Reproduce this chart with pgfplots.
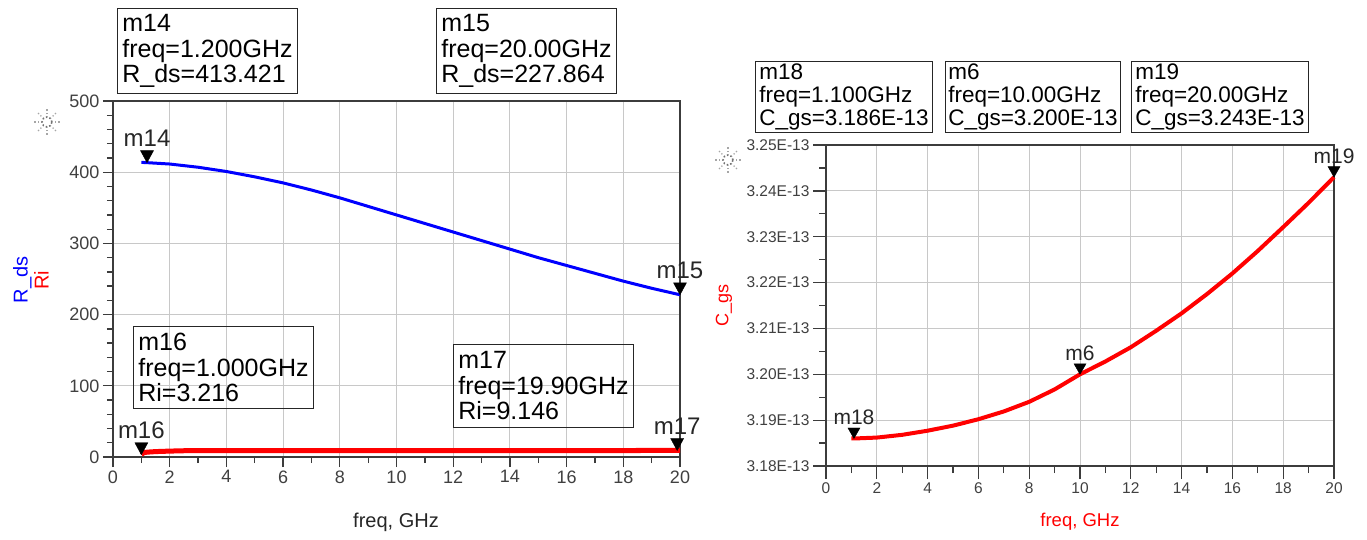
\documentclass[border=0pt]{standalone}
\usepackage{pgfplots}
\pgfplotsset{compat=1.18}
\usepackage{fontspec}
\setmainfont{Liberation Sans}
\newcommand{\fs}[1]{\fontsize{#1}{#1}\selectfont}
\definecolor{gridc}{RGB}{200,200,200}
\definecolor{axc}{RGB}{60,60,60}
\definecolor{tlc}{RGB}{64,64,64}
\pgfdeclareplotmark{dtri}{%
 \pgfpathmoveto{\pgfqpoint{0pt}{0pt}}%
 \pgfpathlineto{\pgfqpoint{-6.5pt}{12pt}}%
 \pgfpathlineto{\pgfqpoint{6.5pt}{12pt}}%
 \pgfpathclose\pgfusepathqfillstroke}
\pgfdeclareplotmark{dtris}{%
 \pgfpathmoveto{\pgfqpoint{0pt}{0pt}}%
 \pgfpathlineto{\pgfqpoint{-6pt}{10.5pt}}%
 \pgfpathlineto{\pgfqpoint{6pt}{10.5pt}}%
 \pgfpathclose\pgfusepathqfillstroke}
\pgfplotsset{
  adsax/.style={
    scale only axis, anchor=south west, clip=false,
    xmin=0, xmax=20, xtick={0,2,...,20}, minor x tick num=1,
    grid=major, major grid style={gridc, line width=1pt},
    tick align=outside, xtick pos=bottom, ytick pos=left,
    axis line style={axc, line width=1.3pt},
    tick style={axc, line width=1.3pt},
    /pgf/number format/assume math mode=true,
    ticklabel style={text=tlc},
  }
}
\begin{document}
\begin{tikzpicture}
\path[use as bounding box] (0pt,0pt) rectangle (1367pt,-539pt);
% star icons
\foreach \cx/\cy in {47/-122, 728/-160} {
  \draw[gray!90!black, dotted, line width=1.6pt] (\cx pt,\cy pt) circle (5pt);
  \foreach \a in {0,45,...,315}
    \draw[gray!70, dotted, line width=1.3pt] ([shift={(\a:8pt)}]\cx pt,\cy pt) -- ([shift={(\a:14pt)}]\cx pt,\cy pt);
}
%================ LEFT ================
\begin{axis}[adsax, at={(113pt,-457pt)}, width=567pt, height=356pt,
  ymin=0, ymax=500, ytick={0,100,...,500}, minor y tick num=4,
  major tick length=10pt, minor tick length=6pt,
  ticklabel style={font=\fs{18}},
]
\addplot[blue, line width=3pt] coordinates {
 (1,413.8) (1.2,413.421) (2,411.5) (3,407) (4,401) (5,393.5) (6,385)
 (7,375) (8,364) (9,352) (10,340) (11,328) (12,316) (13,304) (14,292)
 (15,280) (16,269) (17,258) (18,247) (19,237) (20,227.864)};
\addplot[red, line width=5pt] coordinates {
 (1,3.216) (1.05,5.0) (1.1,6.2) (1.2,6.8) (1.5,7.6) (2,8.3) (2.5,8.8)
 (3,9.0) (4,9.08) (6,9.12) (10,9.14) (19.9,9.146) (20,9.146)};
\addplot[only marks, mark=dtri, black, nodes near coords, point meta=explicit symbolic,
  every node near coord/.style={anchor=south, inner sep=0pt, yshift=16pt, font=\fs{24}, text=black!85}]
  coordinates {(1.2,413.421)[m14] (20,227.864)[m15] (1,3.216)[m16] (19.9,9.146)[m17]};
\end{axis}
%================ RIGHT ================
\begin{axis}[adsax, at={(826pt,-466pt)}, width=508pt, height=321pt,
  ymin=3.18, ymax=3.25, ytick={3.18,3.19,3.20,3.21,3.22,3.23,3.24,3.25}, minor y tick num=1,
  major tick length=13pt, minor tick length=7pt,
  ticklabel style={font=\fs{15.5}},
  yticklabel={\pgfmathprintnumber[fixed,fixed zerofill,precision=2]{\tick}E-13},
]
\addplot[red, line width=4pt] coordinates {
 (1,3.1860) (1.1,3.1860) (2,3.1862) (3,3.1868) (4,3.1877) (5,3.1888) (6,3.1902)
 (7,3.1919) (8,3.1940) (9,3.1967) (10,3.2000) (11,3.2028) (12,3.2059) (13,3.2095)
 (14,3.2133) (15,3.2175) (16,3.2220) (17,3.2269) (18,3.2321) (19,3.2374) (20,3.2430)};
\addplot[only marks, mark=dtris, black, nodes near coords, point meta=explicit symbolic,
  every node near coord/.style={anchor=south, inner sep=0pt, yshift=13.5pt, font=\fs{21}, text=black!85}]
  coordinates {(1.1,3.186)[m18] (10,3.200)[m6] (20,3.243)[m19]};
\end{axis}
%================ labels ================
\node[rotate=90, align=center, font=\fontsize{20}{21}\selectfont] at (31pt,-280pt)
  {\textcolor{blue}{R\_ds}\\\textcolor{red}{Ri}};
\node[font=\fs{20}, text=black!85] at (396pt,-522pt) {freq, GHz};
\node[rotate=90, font=\fs{18}, text=red] at (724pt,-305pt) {C\_gs};
\node[font=\fs{18.5}, text=red] at (1080pt,-522pt) {freq, GHz};
%================ marker boxes ================
\tikzset{mbox/.style={draw=black!85, line width=1pt, anchor=north west, align=left,
  inner xsep=3pt, inner ysep=3pt, font=\fontsize{25}{25.5}\selectfont, minimum width=180pt, minimum height=85pt}}
\tikzset{sbox/.style={draw=black!85, line width=1pt, anchor=north west, align=left,
  inner xsep=2pt, inner ysep=2pt, font=\fontsize{22.5}{23}\selectfont, minimum width=177pt, minimum height=71pt}}
\node[mbox] at (117pt,-8pt) {m14\\freq=1.200GHz\\R\_ds=413.421};
\node[mbox] at (436pt,-8pt) {m15\\freq=20.00GHz\\R\_ds=227.864};
\node[mbox, minimum height=82pt] at (133pt,-326pt) {m16\\freq=1.000GHz\\Ri=3.216};
\node[mbox, minimum height=83pt] at (453pt,-344pt) {m17\\freq=19.90GHz\\Ri=9.146};
\node[sbox] at (755pt,-61pt) {m18\\freq=1.100GHz\\C\_gs=3.186E-13};
\node[sbox, minimum width=175pt] at (945pt,-61pt) {m6\\freq=10.00GHz\\C\_gs=3.200E-13};
\node[sbox] at (1131pt,-61pt) {m19\\freq=20.00GHz\\C\_gs=3.243E-13};
\end{tikzpicture}
\end{document}
